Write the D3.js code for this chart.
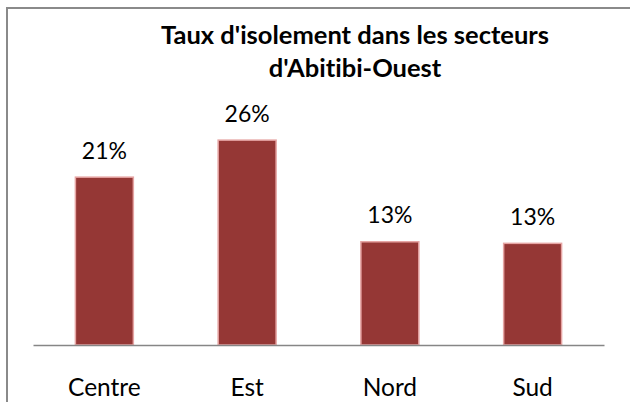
<!DOCTYPE html>
<html>
<head>
<meta charset="utf-8">
<script src="https://cdn.jsdelivr.net/npm/d3@7"></script>
<style>
  body { margin: 0; background: #fff; }
  text { font-family: Lato, "Open Sans", sans-serif; font-variant-ligatures: none; }
</style>
</head>
<body>
<svg id="chart" width="630" height="402"></svg>
<script>
const categories = ["Centre", "Est", "Nord", "Sud"];
const values = [0.213, 0.26, 0.131, 0.129];
const titleLines = ["Taux d'isolement dans les secteurs", "d'Abitibi-Ouest"];

const width = 630;
const height = 402;
const barColor = "#953735";
const barEdge = "#e6a5a4";
const axisColor = "#868686";

const svg = d3.select("#chart");

// chart frame (runs off the right and bottom edges)
svg.append("rect")
  .attr("x", 7)
  .attr("y", 8)
  .attr("width", 680)
  .attr("height", 440)
  .attr("fill", "#fff")
  .attr("stroke", "#8a8a8a")
  .attr("stroke-width", 2);

const plot = { left: 33, right: 604, top: 108.6, bottom: 345 };

const xScale = d3.scaleBand()
  .domain(categories)
  .range([plot.left, plot.right])
  .paddingInner(0.594)
  .paddingOuter(0.297);

const yScale = d3.scaleLinear()
  .domain([0, 0.3])
  .range([plot.bottom, plot.top]);

// title
const title = svg.append("text")
  .attr("text-anchor", "middle")
  .style("font-size", "25.5px")
  .style("font-weight", 700)
  .style("fill", "#000");
titleLines.forEach((line, i) => {
  title.append("tspan")
    .attr("x", 355)
    .attr("y", 44 + i * 33)
    .text(line);
});

// bars
const data = categories.map((c, i) => ({ cat: c, value: values[i] }));

svg.append("g")
  .selectAll("rect")
  .data(data)
  .join("rect")
  .attr("x", (d) => xScale(d.cat))
  .attr("y", (d) => yScale(d.value))
  .attr("width", xScale.bandwidth())
  .attr("height", (d) => yScale(0) - yScale(d.value))
  .attr("fill", barColor)
  .attr("stroke", barEdge)
  .attr("stroke-width", 1.5);

// value labels
svg.append("g")
  .selectAll("text")
  .data(data)
  .join("text")
  .attr("x", (d) => xScale(d.cat) + xScale.bandwidth() / 2)
  .attr("y", (d) => yScale(d.value) - 18.5)
  .attr("text-anchor", "middle")
  .style("font-size", "23px")
  .style("fill", "#000")
  .text((d) => d3.format(".0%")(d.value));

// category axis
const xAxis = svg.append("g")
  .attr("transform", `translate(0, ${plot.bottom})`)
  .call(d3.axisBottom(xScale).tickSize(0).tickPadding(43));
xAxis.select(".domain")
  .attr("stroke", axisColor)
  .attr("stroke-width", 1.5);
xAxis.selectAll("text")
  .attr("font-family", null)
  .attr("font-size", null)
  .style("font-size", "24.5px")
  .style("fill", "#000")
  .attr("dy", "0.32em");
</script>
</body>
</html>
